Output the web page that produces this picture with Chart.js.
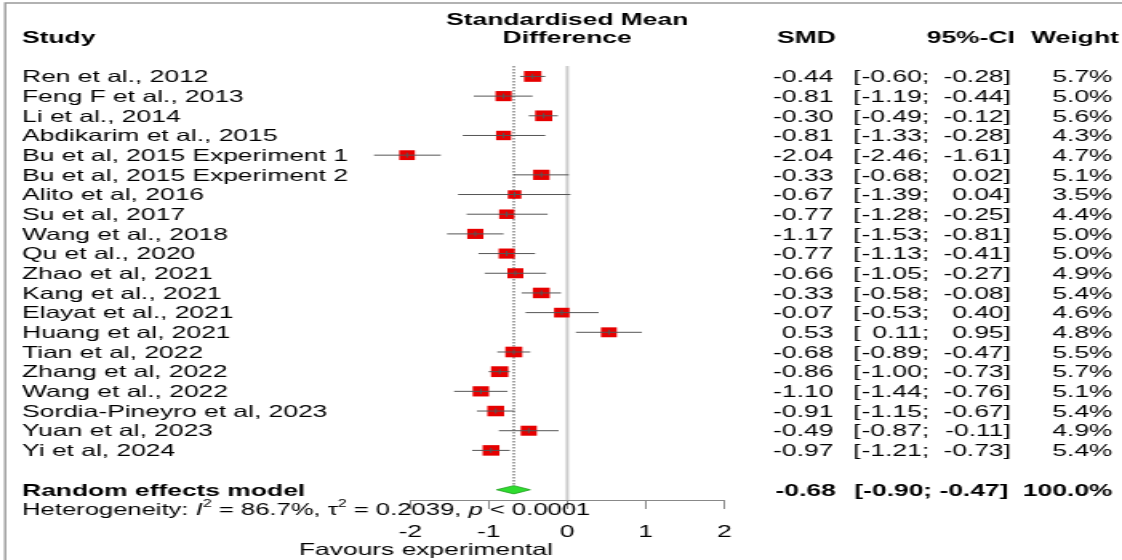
<!DOCTYPE html>
<html>
<head>
<meta charset="utf-8">
<script src="https://cdn.jsdelivr.net/npm/chart.js@4.4.1/dist/chart.umd.min.js"></script>
<style>
  html, body { margin: 0; padding: 0; background: #fff; overflow: hidden; }
  /* the reference is a horizontally stretched R forest plot, so stretch the canvas too */
  #wrap { width: 701px; height: 560px; transform: scaleX(1.6006); transform-origin: 0 0; }
</style>
</head>
<body>
<div id="wrap"><canvas id="forest"></canvas></div>
<script>
// data
const studies = [
  'Ren et al., 2012', 'Feng F et al., 2013', 'Li et al., 2014', 'Abdikarim et al., 2015',
  'Bu et al, 2015 Experiment 1', 'Bu et al, 2015 Experiment 2', 'Alito et al, 2016', 'Su et al, 2017',
  'Wang et al., 2018', 'Qu et al., 2020', 'Zhao et al, 2021', 'Kang et al., 2021',
  'Elayat et al., 2021', 'Huang et al, 2021', 'Tian et al, 2022', 'Zhang et al, 2022',
  'Wang et al., 2022', 'Sordia-Pineyro et al, 2023', 'Yuan et al, 2023', 'Yi et al, 2024'
];
const smd   = [-0.44, -0.81, -0.30, -0.81, -2.04, -0.33, -0.67, -0.77, -1.17, -0.77, -0.66, -0.33, -0.07, 0.53, -0.68, -0.86, -1.10, -0.91, -0.49, -0.97];
const lower = [-0.60, -1.19, -0.49, -1.33, -2.46, -0.68, -1.39, -1.28, -1.53, -1.13, -1.05, -0.58, -0.53, 0.11, -0.89, -1.00, -1.44, -1.15, -0.87, -1.21];
const upper = [-0.28, -0.44, -0.12, -0.28, -1.61, 0.02, 0.04, -0.25, -0.81, -0.41, -0.27, -0.08, 0.40, 0.95, -0.47, -0.73, -0.76, -0.67, -0.11, -0.73];
const weights = [5.7, 5.0, 5.6, 4.3, 4.7, 5.1, 3.5, 4.4, 5.0, 5.0, 4.9, 5.4, 4.6, 4.8, 5.5, 5.7, 5.1, 5.4, 4.9, 5.4];
const pooled = { label: 'Random effects model', est: -0.68, lo: -0.90, hi: -0.47, weight: 100.0 };
const xTicks = [-2, -1, 0, 1, 2];
const heterogeneity = [
  ['Heterogeneity: ', 'n'], ['I', 'i'], ['2', 's'], [' = 86.7%, \u03c4', 'n'], ['2', 's'],
  [' = 0.2039, ', 'n'], ['p', 'i'], [' < 0.0001', 'n']
];
const leftLabel = 'Favours experimental';

const FONT = "'Liberation Sans', Arial, sans-serif";
const SIZE = 16.5;
// text columns (canvas px before the stretch)
const col = { study: 13.75, smdRight: 520.6, ciOpen: 533, loRight: 580.5, hiRight: 627, weightRight: 695 };
const TY = 1.2; // small nudge so glyphs sit on the row centre

const fmt = v => v.toFixed(2);
const pooledRow = studies.length + 1;

const forestPlugin = {
  id: 'forest',
  beforeDatasetsDraw(chart) {
    const { ctx, chartArea, scales: { x, y } } = chart;
    ctx.save();
    // line of no effect
    ctx.strokeStyle = '#cdcdcd';
    ctx.lineWidth = 2;
    ctx.beginPath();
    ctx.moveTo(x.getPixelForValue(0), chartArea.top);
    ctx.lineTo(x.getPixelForValue(0), chartArea.bottom);
    ctx.stroke();
    // pooled estimate, dotted
    ctx.strokeStyle = '#333';
    ctx.lineWidth = 0.9;
    ctx.setLineDash([1.5, 1.5]);
    ctx.beginPath();
    ctx.moveTo(x.getPixelForValue(pooled.est), chartArea.top);
    ctx.lineTo(x.getPixelForValue(pooled.est), y.getPixelForValue(pooledRow - 0.2));
    ctx.stroke();
    ctx.restore();
  },
  afterDatasetsDraw(chart) {
    const { ctx, scales: { x, y } } = chart;
    ctx.save();
    ctx.strokeStyle = '#555';
    ctx.lineWidth = 1;
    studies.forEach((s, i) => {
      const py = y.getPixelForValue(i);
      ctx.beginPath();
      ctx.moveTo(x.getPixelForValue(lower[i]), py);
      ctx.lineTo(x.getPixelForValue(upper[i]), py);
      const cx = x.getPixelForValue(smd[i]);
      ctx.moveTo(cx, py - 2.5);
      ctx.lineTo(cx, py + 2.5);
      ctx.stroke();
    });
    // diamond
    const py = y.getPixelForValue(pooledRow);
    const h = y.getPixelForValue(pooledRow + 0.21) - py;
    ctx.beginPath();
    ctx.moveTo(x.getPixelForValue(pooled.lo), py);
    ctx.lineTo(x.getPixelForValue(pooled.est), py - h);
    ctx.lineTo(x.getPixelForValue(pooled.hi), py);
    ctx.lineTo(x.getPixelForValue(pooled.est), py + h);
    ctx.closePath();
    ctx.fillStyle = '#2fdc2f';
    ctx.fill();
    ctx.strokeStyle = '#1e9e1e';
    ctx.lineWidth = 0.8;
    ctx.stroke();
    ctx.restore();
  },
  afterDraw(chart) {
    const { ctx, chartArea, scales: { x, y } } = chart;
    const normal = SIZE + 'px ' + FONT;
    const bold = 'bold ' + SIZE + 'px ' + FONT;
    const text = (t, px, py, align, font) => {
      ctx.font = font || normal;
      ctx.textAlign = align;
      ctx.fillText(t, px, py + TY);
    };
    ctx.save();
    ctx.fillStyle = '#000';
    ctx.textBaseline = 'middle';

    // headers
    const mid = (chartArea.left + chartArea.right) / 2;
    text('Standardised Mean', mid, y.getPixelForValue(-2.92), 'center', bold);
    text('Difference', mid, y.getPixelForValue(-1.97), 'center', bold);
    const hy = y.getPixelForValue(-1.97);
    text('Study', col.study, hy, 'left', bold);
    text('SMD', col.smdRight + 1.5, hy, 'right', bold);
    text('95%-CI', 634, hy, 'right', bold);
    text('Weight', 699, hy, 'right', bold);

    // study rows
    studies.forEach((s, i) => {
      const py = y.getPixelForValue(i);
      text(s, col.study, py, 'left');
      text(fmt(smd[i]), col.smdRight, py, 'right');
      text('[', col.ciOpen, py, 'left');
      text((lower[i] >= 0 ? ' ' : '') + fmt(lower[i]) + ';', col.loRight, py, 'right');
      text(fmt(upper[i]), col.hiRight, py, 'right');
      text(']', col.hiRight, py, 'left');
      text(weights[i].toFixed(1) + '%', col.weightRight, py, 'right');
    });

    // pooled row
    const py = y.getPixelForValue(pooledRow);
    text(pooled.label, col.study, py, 'left', bold);
    text(fmt(pooled.est), col.smdRight + 1.5, py, 'right', bold);
    text('[' + fmt(pooled.lo) + '; ' + fmt(pooled.hi) + ']', 630, py, 'right', bold);
    text(pooled.weight.toFixed(1) + '%', col.weightRight, py, 'right', bold);

    // heterogeneity line
    let hx = col.study;
    const hty = y.getPixelForValue(pooledRow + 1) + TY;
    ctx.textAlign = 'left';
    heterogeneity.forEach(([t, kind]) => {
      let dy = 0;
      if (kind === 'i') ctx.font = 'italic 16px ' + FONT;
      else if (kind === 's') { ctx.font = '10px ' + FONT; dy = -6; }
      else ctx.font = '16px ' + FONT;
      ctx.fillText(t, hx, hty + dy);
      hx += ctx.measureText(t).width;
    });

    // left label under the axis
    text(leftLabel, x.getPixelForValue(0) - 9, y.getPixelForValue(pooledRow + 3), 'right');

    // frame of the original figure
    ctx.strokeStyle = '#999';
    ctx.lineWidth = 1.4;
    ctx.beginPath();
    ctx.moveTo(3.2, chart.height);
    ctx.lineTo(3.2, 3);
    ctx.lineTo(chart.width, 3);
    ctx.stroke();
    ctx.restore();
  }
};

new Chart(document.getElementById('forest'), {
  type: 'scatter',
  data: {
    datasets: [{
      data: smd.map((v, i) => ({ x: v, y: i })),
      pointStyle: 'rect',
      pointRadius: weights.map(w => Math.sqrt(w) * 3.2),
      pointHoverRadius: weights.map(w => Math.sqrt(w) * 3.2),
      backgroundColor: '#e60000',
      borderWidth: 0,
      clip: false
    }]
  },
  options: {
    responsive: true,
    maintainAspectRatio: false,
    animation: false,
    layout: { padding: { top: 66, bottom: 0, left: 256.25, right: 248.5 } },
    plugins: { legend: { display: false }, tooltip: { enabled: false } },
    scales: {
      x: {
        type: 'linear',
        min: -2,
        max: 2,
        afterBuildTicks: s => { s.ticks = xTicks.map(v => ({ value: v })); },
        afterFit: s => { s.height = 60; },
        grid: { drawOnChartArea: false, tickLength: 9, color: '#888' },
        border: { color: '#888', width: 1 },
        ticks: { color: '#000', font: { family: FONT, size: SIZE }, padding: 14, maxRotation: 0, autoSkip: false }
      },
      y: {
        type: 'linear',
        reverse: true,
        min: -0.53,
        max: 21.52,
        display: false
      }
    }
  },
  plugins: [forestPlugin]
});
</script>
</body>
</html>
